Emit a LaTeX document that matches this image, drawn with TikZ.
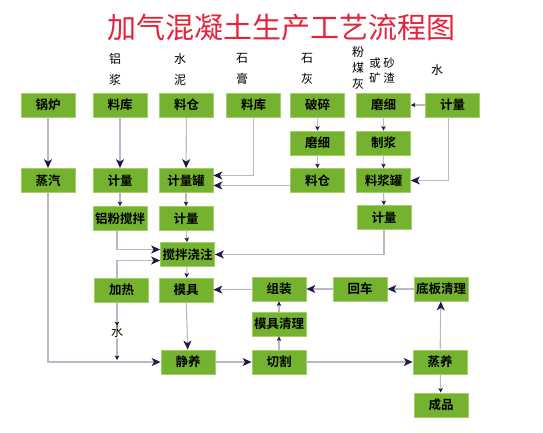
\documentclass[tikz,border=0pt]{standalone}
\usepackage{fontspec}
\usepackage{xcolor}
\usepackage{tikz}
\usetikzlibrary{arrows.meta}
\newfontfamily\cjk{Noto Sans CJK SC}
\newfontfamily\cjkb{Noto Sans CJK SC Bold}
\definecolor{BoxGreen}{HTML}{74B230}
\definecolor{BoxEdge}{HTML}{A3D066}
\definecolor{LineGray}{HTML}{B8B8CA}
\definecolor{TipNavy}{HTML}{1E1B4B}
\definecolor{TitleRed}{HTML}{E5233A}

\begin{document}
\begin{tikzpicture}[x=1pt, y=-1pt,
                box/.style={draw=BoxEdge, line width=0.8pt, fill=BoxGreen,
                            minimum width=54pt, minimum height=24pt, inner sep=0pt,
                            font=\cjkb\fontsize{12.5}{13}\selectfont, align=center},
                lbl/.style={font=\cjk\fontsize{12}{21}\selectfont, align=center, inner sep=0pt},
                big/.style={draw=LineGray, line width=1.1pt,
                            -{Stealth[length=9pt, width=8pt, inset=2.5pt, color=TipNavy]}},
                small/.style={draw=LineGray, line width=1.1pt,
                            -{Stealth[length=4.5pt, width=4.5pt, inset=1pt, color=TipNavy]}}]
                \useasboundingbox (0,0) rectangle (543,432);

                \node[font=\cjk\fontsize{29}{29}\selectfont, text=TitleRed] (title) at (281,28) {加气混凝土生产工艺流程图};

                \node[lbl] (tA) at (115,69) {铝\\浆};
                \node[lbl] (tB) at (180,69) {水\\泥};
                \node[lbl] (tC) at (242,69) {石\\膏};
                \node[lbl] (tD) at (307,69) {石\\灰};
                \node[lbl, font=\cjk\fontsize{12}{16}\selectfont] (tE) at (358,68) {粉\\煤\\灰};
                \node[lbl, font=\cjk\fontsize{11.5}{15}\selectfont] (tF) at (375,70.5) {或\\矿};
                \node[lbl, font=\cjk\fontsize{11.5}{15}\selectfont] (tG) at (389,70.5) {砂\\渣};
                \node[lbl] (tH) at (437,70) {水};

                \node[box] (boiler)   at (48,105)    {锅炉};
                \node[box] (kuA)      at (120,105)   {料库};
                \node[box] (cang)     at (186.5,105) {料仓};
                \node[box] (kuB)      at (253.5,105) {料库};
                \node[box] (posui)    at (317.5,105) {破碎};
                \node[box] (moxiA)    at (383.5,105) {磨细};
                \node[box] (jlW)      at (452.5,105) {计量};

                \node[box] (moxiB)    at (317.5,143) {磨细};
                \node[box] (zhijiang) at (383.5,143) {制浆};

                \node[box] (steam)    at (48,180.5)  {蒸汽};
                \node[box] (jlA)      at (120,180.5) {计量};
                \node[box] (jlguan)   at (186,180.5) {计量罐};
                \node[box] (liaocang) at (317.5,180.5) {料仓};
                \node[box] (jjguan)   at (383.5,180.5) {料浆罐};

                \node[box] (lvfen)    at (120,218.5) {铝粉搅拌};
                \node[box] (jlB)      at (186,218.5) {计量};
                \node[box] (jlC)      at (384,217.5) {计量};

                \node[box] (jiaoban)  at (187.5,254.5) {搅拌浇注};

                \node[box] (heat)     at (121.5,290) {加热};
                \node[box] (muju)     at (186,290)   {模具};
                \node[box] (zuzhuang) at (279,289)   {组装};
                \node[box] (huiche)   at (360,289)   {回车};
                \node[box] (diban)    at (441,289)   {底板清理};

                \node[box] (mjql)     at (279,324)   {模具清理};
                \node[lbl] (water)    at (117,332)   {水};

                \node[box] (jingyang) at (188,362)   {静养};
                \node[box] (qiege)    at (279,362)   {切割};
                \node[box] (zhengyang) at (440,362)  {蒸养};
                \node[box] (chengpin) at (441,405)   {成品};
                \coordinate (wend) at (117,360);

                \draw[big] (boiler) -- (steam);
                \draw[big] (kuA) -- (jlA);
                \draw[big] (cang) -- (jlguan);
                \draw[big] (kuB) |- ([yshift=5pt]jlguan.east);
                \draw[big] ([yshift=-5pt]liaocang.west) -- ([yshift=-5pt]jlguan.east);
                \draw[small] (posui) -- (moxiB);
                \draw[small] (moxiB) -- (liaocang);
                \draw[small] (jlW) -- (moxiA);
                \draw[small] (moxiA) -- (zhijiang);
                \draw[small] (zhijiang) -- (jjguan);
                \draw[small] (jjguan) -- (jlC);
                \draw[big] ([xshift=-4pt]jlW.south) |- (jjguan.east);
                \draw[small] (jlA) -- (lvfen);
                \draw[small] (jlguan) -- (jlB);
                \draw[small] (jlB) -- (jiaoban);
                \draw[big] ([xshift=-3pt]lvfen.south) |- ([yshift=5pt]jiaoban.west);
                \draw[big] ([xshift=-4.5pt]heat.north) |- ([yshift=-6pt]jiaoban.west);
                \draw[big] (jlC) |- (jiaoban.east);
                \draw[small] (jiaoban) -- (muju);
                \draw[big] (muju) -- (jingyang);
                \draw[small] ([xshift=-4.5pt]heat.south) -- (water);
                \draw[small] (water) -- (wend);
                \draw[big] (steam) |- (jingyang.west);
                \draw[big] (jingyang) -- (qiege);
                \draw[small] (qiege) -- (mjql);
                \draw[small] (mjql) -- (zuzhuang);
                \draw[big] (zuzhuang) -- (muju);
                \draw[big] (huiche) -- (zuzhuang);
                \draw[big] (diban) -- (huiche);
                \draw[big] (qiege) -- (zhengyang);
                \draw[big] (zhengyang) -- (diban);
                \draw[small] (zhengyang) -- (chengpin);
            \end{tikzpicture}
\end{document}
